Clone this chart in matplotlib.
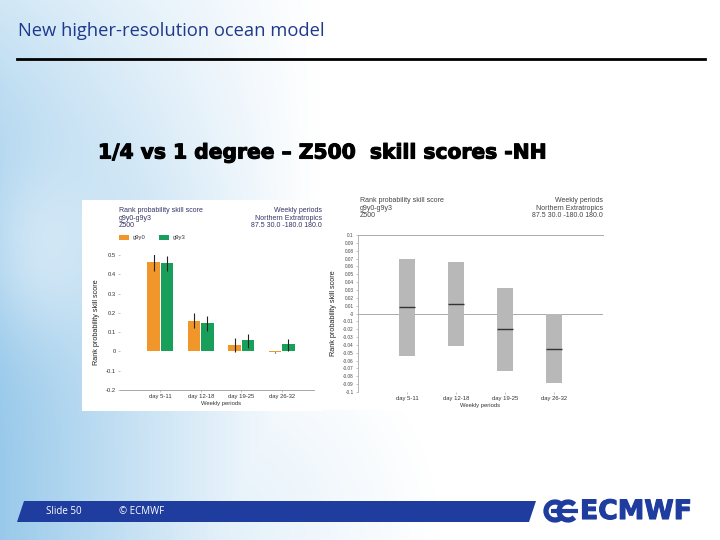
import numpy as np
import matplotlib
matplotlib.use("Agg")
import matplotlib.pyplot as plt
from matplotlib.patches import Polygon, Rectangle, Arc
import matplotlib.patheffects as pe

# ---------------- data ----------------
periods = ["day 5-11", "day 12-18", "day 19-25", "day 26-32"]
rpss_g9y0 = [0.463, 0.160, 0.035, -0.005]
rpss_g9y0_lo = [0.417, 0.122, -0.003, -0.006]
rpss_g9y0_hi = [0.504, 0.197, 0.070, -0.004]
rpss_g9y3 = [0.456, 0.146, 0.057, 0.037]
rpss_g9y3_lo = [0.417, 0.104, 0.017, 0.003]
rpss_g9y3_hi = [0.496, 0.184, 0.092, 0.066]
left_yticks = [-0.2, -0.1, 0, 0.1, 0.2, 0.3, 0.4, 0.5]

diff_median = [0.0077, 0.012, -0.020, -0.045]
diff_lo = [-0.0545, -0.041, -0.073, -0.0885]
diff_hi = [0.070, 0.065, 0.033, 0.0]
right_yticks = [round(v, 2) for v in np.arange(-0.1, 0.1001, 0.01)]

W, H = 720, 540
fig = plt.figure(figsize=(7.2, 5.4), dpi=100)

def rect(x, y, w, h):
    return [x / W, 1 - (y + h) / H, w / W, h / H]

# ---------------- background ----------------
bg = fig.add_axes([0, 0, 1, 1])
bg.set_xlim(0, W); bg.set_ylim(H, 0); bg.axis("off")
xx, yy = np.meshgrid(np.linspace(0, W, 360), np.linspace(0, H, 270))
a = np.clip(1 - xx / 320.0, 0, 1) ** 1.1
a = a * (0.45 + 0.55 * np.clip(yy / 250.0, 0, 1))
a = np.maximum(a, 0.3 * np.clip(1 - np.hypot(xx - 200, yy - 540) / 240, 0, 1))
cloud = np.exp(-(((xx - 40) / 70.0) ** 2 + ((yy - 250) / 90.0) ** 2))
a = a * (1 - 0.45 * cloud)
sky = np.array([0.60, 0.79, 0.92])
img = np.ones((270, 360, 3)) * (1 - a[..., None]) + sky * a[..., None]
bg.imshow(img, extent=[0, W, H, 0], aspect="auto", zorder=0)

bg.text(18, 31, "New higher-resolution ocean model", fontsize=13.2,
        family="Open Sans", color="#1f3a8c", va="center", ha="left")
bg.plot([17, 705], [59, 59], color="black", lw=2)

bg.text(322, 153, "1/4 vs 1 degree \u2013 Z500  skill scores -NH", fontsize=14.6,
        family="DejaVu Sans", fontweight="bold", color="black",
        ha="center", va="center",
        path_effects=[pe.withStroke(linewidth=0.8, foreground="black")])

# footer band
band = Polygon([[17, 522], [24, 501], [536, 501], [529, 522]], closed=True,
               facecolor="#1f3d9e", edgecolor="none")
bg.add_patch(band)
bg.text(46, 511.5, "Slide 50", fontsize=7, color="white", va="center", family="Open Sans")
bg.text(119, 511.5, "\u00a9 ECMWF", fontsize=7, color="white", va="center", family="Open Sans")
# logo
logo_c = "#1f3d9e"
bg.add_patch(Arc((555, 511), 18, 18, theta1=45, theta2=315, lw=3.8, color=logo_c))
bg.add_patch(Arc((568, 511), 18, 18, theta1=45, theta2=315, lw=3.8, color=logo_c))
bg.plot([551, 578], [511, 511], color=logo_c, lw=3.0, solid_capstyle="butt")
bg.text(580, 512, "ECMWF", fontsize=19.2, fontweight="bold", family="DejaVu Sans",
        color=logo_c, va="center", ha="left",
        path_effects=[pe.withStroke(linewidth=0.8, foreground=logo_c)])

small = dict(fontsize=4.2, color="#333333", family="Liberation Sans")

# ---------------- left chart ----------------
panL = fig.add_axes(rect(82, 200, 241, 211))
panL.set_facecolor("white"); panL.set_xticks([]); panL.set_yticks([])
for s in panL.spines.values():
    s.set_visible(False)

axL = fig.add_axes(rect(120, 255, 202, 135))
axL.set_facecolor("none")
x = np.arange(1, len(periods) + 1)
bw = 0.31
c_or, c_gr = "#f0962a", "#18a05a"
err0 = [np.array(rpss_g9y0) - np.array(rpss_g9y0_lo), np.array(rpss_g9y0_hi) - np.array(rpss_g9y0)]
err3 = [np.array(rpss_g9y3) - np.array(rpss_g9y3_lo), np.array(rpss_g9y3_hi) - np.array(rpss_g9y3)]
axL.bar(x - bw / 2 - 0.01, rpss_g9y0, bw, color=c_or, yerr=err0,
        error_kw=dict(ecolor="#222222", elinewidth=0.8, capsize=0), zorder=2)
axL.bar(x + bw / 2 + 0.01, rpss_g9y3, bw, color=c_gr, yerr=err3,
        error_kw=dict(ecolor="#222222", elinewidth=0.8, capsize=0), zorder=2)
axL.set_xlim(0, 5)
axL.set_ylim(-0.2, 0.5)
axL.set_yticks(left_yticks)
axL.set_yticklabels([("%g" % v) for v in left_yticks], **small)
axL.set_xticks(x)
axL.set_xticklabels(periods, **small)
axL.tick_params(length=1.5, width=0.4, color="#999999", pad=1.5)
for s in ["top", "right", "left"]:
    axL.spines[s].set_visible(False)
axL.spines["bottom"].set_color("#999999"); axL.spines["bottom"].set_linewidth(0.6)
axL.set_xlabel("Weekly periods", labelpad=1, **small)
axL.set_ylabel("Rank probability skill score", fontsize=5.2,
               color="#222222", family="Liberation Sans")
axL.yaxis.set_label_coords(-0.1, 0.5)

tl = dict(fontsize=5, color="#333366", family="Liberation Sans")
fig.text(119 / W, 1 - 207 / H, "Rank probability skill score\ng9y0-g9y3\nZ500",
         va="top", ha="left", linespacing=1.1, **tl)
fig.text(322 / W, 1 - 207 / H, "Weekly periods\nNorthern Extratropics\n87.5 30.0 -180.0 180.0",
         va="top", ha="right", linespacing=1.1, **tl)
fig.patches.append(Rectangle((119 / W, 1 - 240 / H), 10 / W, 5 / H, transform=fig.transFigure,
                             facecolor=c_or, edgecolor="none"))
fig.text(133 / W, 1 - 237.5 / H, "g9y0", va="center", **small)
fig.patches.append(Rectangle((159 / W, 1 - 240 / H), 10 / W, 5 / H, transform=fig.transFigure,
                             facecolor=c_gr, edgecolor="none"))
fig.text(173 / W, 1 - 237.5 / H, "g9y3", va="center", **small)

# ---------------- right chart ----------------
panR = fig.add_axes(rect(315, 190, 300, 220))
panR.set_facecolor("white"); panR.set_xticks([]); panR.set_yticks([])
for s in panR.spines.values():
    s.set_visible(False)

axR = fig.add_axes(rect(358, 235, 245, 157))
axR.set_facecolor("none")
bwR = 0.31
heights = np.array(diff_hi) - np.array(diff_lo)
axR.bar(x, heights, bwR, bottom=diff_lo, color="#b8b8b8", zorder=2)
axR.hlines(diff_median, x - bwR / 2, x + bwR / 2, colors="#333333", lw=1.0, zorder=3)
axR.axhline(0, color="#aaaaaa", lw=0.7, zorder=1)
axR.set_xlim(0, 5)
axR.set_ylim(-0.1, 0.1)
axR.set_yticks(right_yticks)
axR.set_yticklabels([("%g" % v) for v in right_yticks], fontsize=3.4, color="#444444",
                    family="Liberation Sans")
axR.set_xticks(x)
axR.set_xticklabels(periods, **small)
axR.tick_params(length=1.5, width=0.4, color="#999999", pad=1.5)
axR.spines["right"].set_visible(False)
axR.spines["bottom"].set_visible(False)
axR.spines["top"].set_color("#aaaaaa"); axR.spines["top"].set_linewidth(0.7)
axR.spines["left"].set_color("#aaaaaa"); axR.spines["left"].set_linewidth(0.6)
axR.set_xlabel("Weekly periods", labelpad=1, **small)
axR.set_ylabel("Rank probability skill score", fontsize=5.2,
               color="#222222", family="Liberation Sans")
axR.yaxis.set_label_coords(-0.085, 0.5)

tr = dict(fontsize=5, color="#444444", family="Liberation Sans")
fig.text(360 / W, 1 - 197 / H, "Rank probability skill score\ng9y0-g9y3\nZ500",
         va="top", ha="left", linespacing=1.1, **tr)
fig.text(603 / W, 1 - 197 / H, "Weekly periods\nNorthern Extratropics\n87.5 30.0 -180.0 180.0",
         va="top", ha="right", linespacing=1.1, **tr)

fig.savefig("out.png", dpi=100)
